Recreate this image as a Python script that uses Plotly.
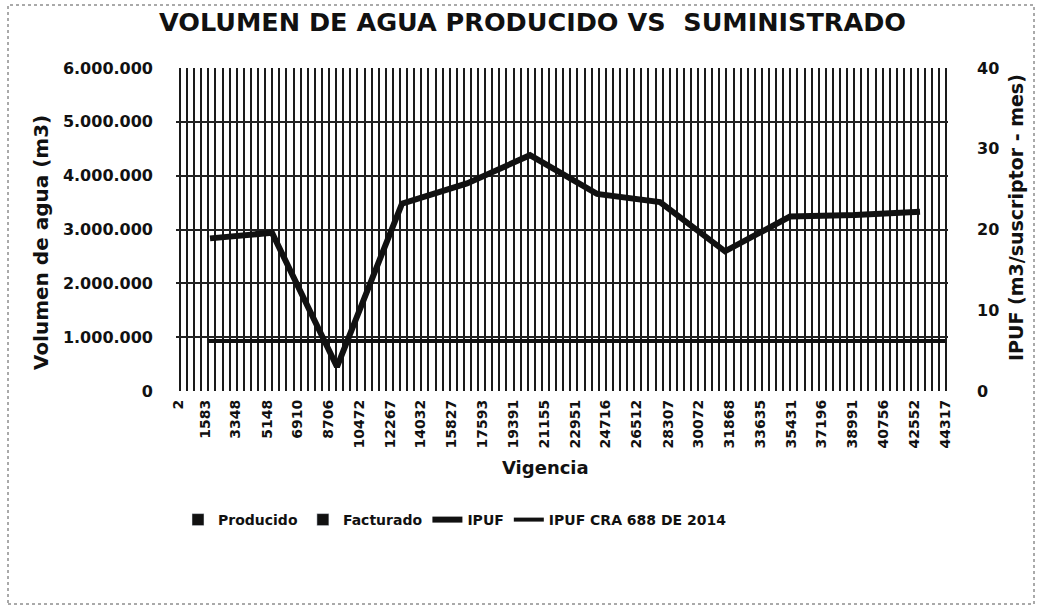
import plotly.graph_objects as go

# Category labels on the x axis (Vigencia)
x_labels = [2, 1583, 3348, 5148, 6910, 8706, 10472, 12267, 14032, 15827, 17593,
            19391, 21155, 22951, 24716, 26512, 28307, 30072, 31868, 33635, 35431,
            37196, 38991, 40756, 42552, 44317]

# Left axis ticks
y_ticks = [0, 1000000, 2000000, 3000000, 4000000, 5000000, 6000000]
y_ticktext = ["0", "1.000.000", "2.000.000", "3.000.000", "4.000.000", "5.000.000", "6.000.000"]

# Bar series (values not legible in the scan)
bar_x = [2]
producido = [None]
facturado = [None]

# IPUF series
ipuf_x = [1851, 5432, 9187, 12943, 16697, 20337, 24208, 27847, 31602, 35357, 39113, 42868]
ipuf = [18.9, 19.6, 3.0, 23.2, 25.7, 29.2, 24.4, 23.4, 17.3, 21.6, 21.8, 22.2]

# IPUF CRA 688 DE 2014 reference level
cra_x = [1735, 44317]
cra = [6.2, 6.2]

FONT = "DejaVu Sans"
INK = "#111111"

fig = go.Figure()
fig.add_trace(go.Bar(x=bar_x, y=producido, name="Producido", marker_color=INK))
fig.add_trace(go.Bar(x=bar_x, y=facturado, name="Facturado", marker_color=INK))
fig.add_trace(go.Scatter(x=ipuf_x, y=ipuf, name="IPUF", mode="lines",
                         line=dict(color=INK, width=6), yaxis="y2"))
fig.add_trace(go.Scatter(x=cra_x, y=cra, name="IPUF CRA 688 DE 2014", mode="lines",
                         line=dict(color=INK, width=4), yaxis="y2"))

L, R, T, B = 176, 92, 68, 215
W, H = 1040, 606
pw, ph = W - L - R, H - T - B

def px(xp):
    return (xp - L) / pw

def py(yp):
    return (H - B - yp) / ph

fig.update_layout(
    width=W, height=H,
    margin=dict(l=L, r=R, t=T, b=B),
    paper_bgcolor="white", plot_bgcolor="white",
    font=dict(family=FONT, color=INK, weight="bold"),
    showlegend=True,
    title=dict(text="VOLUMEN DE AGUA PRODUCIDO VS  SUMINISTRADO",
               x=0.512, xanchor="center", y=1 - 22 / H, yanchor="middle",
               font=dict(family=FONT, size=25.5, color=INK, weight="bold")),
    xaxis=dict(range=[-113, 44485], tickmode="array", tickvals=x_labels,
               ticktext=[str(v) for v in x_labels], tickangle=-90,
               tickfont=dict(size=14, weight="bold"), showgrid=False,
               zeroline=False, showline=False, ticks="", ticklabelstandoff=5,
               minor=dict(tickmode="linear", tick0=118, dtick=410, showgrid=True,
                          gridcolor="#1a1a1a", gridwidth=2)),
    yaxis=dict(range=[0, 6000000], tickmode="array", tickvals=y_ticks,
               ticktext=y_ticktext, tickfont=dict(size=16, weight="bold"),
               showgrid=True, gridcolor="#222222", gridwidth=2, zeroline=False,
               showline=False, ticklabelstandoff=22),
    yaxis2=dict(range=[0, 40], overlaying="y", side="right", dtick=10,
                tickfont=dict(size=16, weight="bold"), showgrid=False,
                zeroline=False, showline=False, ticklabelstandoff=28),
    legend=dict(orientation="h", x=px(178), xanchor="left", y=py(520), yanchor="middle",
                font=dict(size=14, weight="bold", color=INK), bgcolor="rgba(0,0,0,0)",
                traceorder="normal", itemwidth=30),
    annotations=[
        dict(text="Volumen de agua (m3)", xref="paper", yref="paper",
             x=px(41), y=py(243), xanchor="center", yanchor="middle",
             textangle=-90, showarrow=False,
             font=dict(size=20, weight="bold", color=INK)),
        dict(text="IPUF (m3/suscriptor - mes)", xref="paper", yref="paper",
             x=px(1016), y=py(218), xanchor="center", yanchor="middle",
             textangle=-90, showarrow=False,
             font=dict(size=19, weight="bold", color=INK)),
        dict(text="Vigencia", xref="paper", yref="paper",
             x=px(545), y=py(467), xanchor="center", yanchor="middle",
             showarrow=False,
             font=dict(size=18, weight="bold", color=INK)),
    ],
    shapes=[dict(type="rect", xref="paper", yref="paper",
                 x0=px(8), x1=px(1034), y0=py(604), y1=py(5),
                 line=dict(color="#555555", width=1, dash="dot"))],
)

fig.write_html("out.html", config={"displayModeBar": False},
               post_script="document.body.style.margin='0px';document.body.style.overflow='hidden';")
